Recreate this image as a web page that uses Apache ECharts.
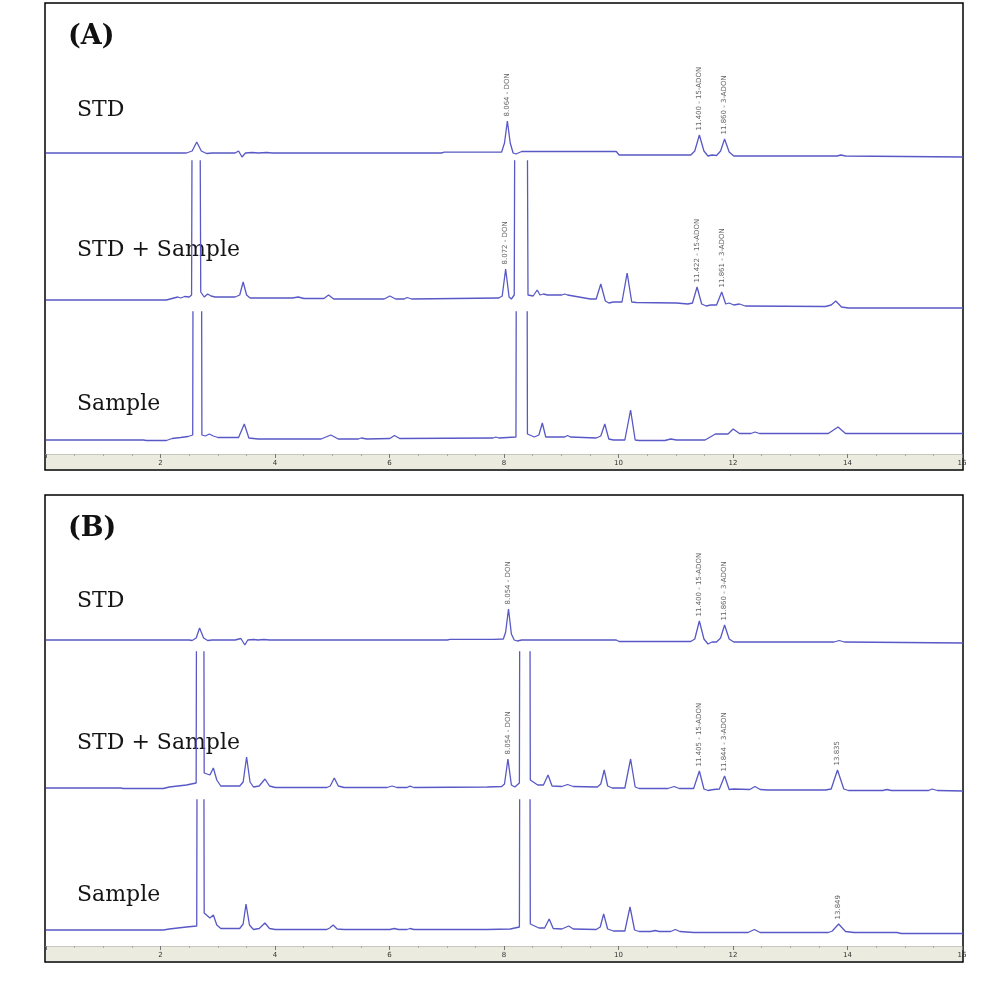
<!DOCTYPE html>
<html><head><meta charset="utf-8">
<script src="https://cdn.jsdelivr.net/npm/echarts@6/dist/echarts.min.js"></script>
<style>html,body{margin:0;padding:0;background:#fff}#c{width:989px;height:985px}</style>
</head><body><div id="c"></div>
<script>
// ---------- DATA (retention time [min], response; 0 = trace baseline) ----------
const panelTitles = ['(A)', '(B)'];
const traceNames = ['STD', 'STD + Sample', 'Sample'];
const xTickLabels = [0, 2, 4, 6, 8, 10, 12, 14, 16];

const traceA_STD = [[0,0],[2.45,0],[2.55,2],[2.63,11],[2.71,2],[2.8,-0.5],[2.9,0],[3.3,0],[3.36,2],[3.42,-4],[3.48,0],[3.6,0.5],[3.7,0],[3.85,0.5],[3.95,0],[6.9,0],[6.95,0.8],[7.7,0.8],[7.73,2.5],[7.76,0.8],[7.95,1],[8.0,10],[8.05,32],[8.1,10],[8.15,0],[8.2,-1],[8.3,1.5],[9.95,1.5],[10.0,-2],[11.25,-2],[11.32,2],[11.4,18],[11.48,2],[11.55,-3],[11.62,-2],[11.7,-2.5],[11.77,2],[11.84,14],[11.92,1],[12.0,-3],[13.8,-3],[13.87,-2],[13.95,-3],[16,-4]];
const traceA_MIX = [[0,0],[2.1,0],[2.2,1.5],[2.3,3],[2.35,2],[2.42,3.5],[2.5,3],[2.54,5],[2.57,600],[2.63,900],[2.66,600],[2.7,8],[2.76,3],[2.82,6],[2.88,4],[2.95,3],[3.3,3],[3.38,5],[3.44,18],[3.5,5],[3.56,2],[4.3,2],[4.4,3],[4.5,1.5],[4.85,1.5],[4.93,5],[5.02,1],[5.9,1],[6.0,4],[6.1,1],[6.25,1],[6.3,2.5],[6.38,1],[7.9,2],[7.96,4],[8.02,31],[8.08,3],[8.12,1],[8.17,5],[8.2,600],[8.3,900],[8.37,600],[8.41,5],[8.5,4],[8.57,10],[8.62,5],[8.68,6],[8.75,5],[9.0,5],[9.05,6],[9.1,5],[9.5,1],[9.6,1],[9.68,16],[9.76,-1],[9.82,-3],[9.9,-2],[10.05,-2],[10.14,27],[10.22,-2],[10.3,-2.5],[11.0,-3],[11.2,-4],[11.28,-3],[11.36,13],[11.44,-4],[11.52,-6],[11.6,-5],[11.7,-5],[11.79,8],[11.86,-4],[11.92,-3],[12.0,-5],[12.1,-4],[12.2,-6],[13.6,-6.5],[13.7,-5],[13.78,-1],[13.88,-7],[14,-8],[16,-8]];
const traceA_SMP = [[0,0],[1.7,0],[1.75,-0.5],[2.1,-0.5],[2.2,1.5],[2.35,2.5],[2.48,3.5],[2.56,5],[2.58,600],[2.66,900],[2.7,600],[2.72,5],[2.78,4],[2.85,6],[2.92,4],[3.0,2.5],[3.36,2.5],[3.46,16],[3.54,2],[3.7,1],[4.8,1],[4.97,5],[5.1,1],[5.45,1],[5.5,2],[5.6,1],[6.0,1.5],[6.08,4.5],[6.17,1.5],[7.8,2],[7.85,3],[7.9,2],[8.2,3],[8.22,600],[8.3,900],[8.38,600],[8.4,6],[8.52,3],[8.6,5],[8.66,17],[8.72,3],[8.85,3],[9.05,3],[9.1,4.5],[9.15,3],[9.6,2],[9.68,4],[9.75,16],[9.82,1],[9.9,0],[10.1,0],[10.2,30],[10.28,0],[10.35,-0.5],[10.8,-0.5],[10.9,1],[11.0,0],[11.5,0],[11.68,6],[11.9,6],[11.99,11],[12.1,6.5],[12.3,6.5],[12.37,8],[12.45,6.5],[13.65,6.5],[13.82,13],[13.95,6.5],[16,6.5]];

const traceB_STD = [[0,0],[2.5,0],[2.55,-0.5],[2.62,2],[2.68,12],[2.75,2],[2.82,-0.5],[2.9,0],[3.3,0],[3.4,1.5],[3.47,-5],[3.52,0],[3.62,0.5],[3.7,0],[3.8,0.5],[3.9,0],[7.0,0],[7.05,0.7],[7.75,0.7],[7.78,2.5],[7.81,0.7],[7.98,1],[8.02,8],[8.07,31],[8.12,6],[8.17,0],[8.22,-1],[8.3,0],[9.95,0],[10.0,-1.5],[11.25,-1.5],[11.32,1],[11.4,19],[11.48,1],[11.55,-4],[11.62,-2],[11.7,-2],[11.77,2],[11.84,15],[11.92,1],[12.0,-2],[13.75,-2],[13.84,-0.5],[13.93,-2],[16,-3]];
const traceB_MIX = [[0,0],[1.3,0],[1.35,-0.5],[2.05,-0.5],[2.15,1],[2.3,2],[2.45,3],[2.62,5],[2.64,600],[2.7,900],[2.74,600],[2.76,15],[2.86,13],[2.92,20],[2.98,8],[3.05,2],[3.38,2],[3.44,6],[3.5,31],[3.56,6],[3.62,1],[3.72,2],[3.82,9],[3.9,2],[4.0,0.5],[4.9,0.5],[4.96,2],[5.03,10],[5.1,2],[5.2,0.5],[5.95,0.5],[6.04,2],[6.12,0.5],[6.3,0.5],[6.35,1.8],[6.42,0.5],[7.7,1],[7.95,1.5],[8.0,4],[8.06,29],[8.12,3],[8.18,1],[8.26,5],[8.28,600],[8.36,900],[8.43,600],[8.45,8],[8.58,3],[8.68,3],[8.76,13],[8.83,2],[9.0,1.5],[9.1,3.5],[9.2,1.5],[9.62,1],[9.68,4],[9.74,18],[9.8,2],[9.88,0],[10.1,0],[10.2,29],[10.28,1],[10.35,-0.5],[10.85,-0.5],[10.96,1.5],[11.05,-0.5],[11.3,-0.5],[11.4,17],[11.48,-1],[11.55,-2.5],[11.65,-1.5],[11.75,-1],[11.84,12],[11.92,-1.5],[12.0,-1],[12.28,-1.5],[12.37,1.5],[12.46,-1.5],[12.6,-2],[13.6,-2],[13.7,-1],[13.81,18],[13.92,-1],[14.0,-2.5],[14.6,-2.5],[14.67,-1.5],[14.75,-2.5],[15.4,-2.5],[15.46,-1],[15.55,-2.5],[16,-3]];
const traceB_SMP = [[0,0],[2.05,0],[2.15,1],[2.3,2],[2.45,3],[2.63,4],[2.65,600],[2.7,900],[2.74,600],[2.76,17],[2.86,12],[2.92,15],[2.98,5],[3.05,1.5],[3.38,1.5],[3.44,6],[3.49,26],[3.55,5],[3.62,0.5],[3.72,1.5],[3.82,7],[3.9,1.5],[4.0,0.5],[4.9,0.5],[4.95,2],[5.01,5],[5.08,1],[5.2,0.5],[6.0,0.5],[6.08,1.5],[6.15,0.5],[6.3,0.5],[6.35,1.5],[6.42,0.5],[7.7,0.5],[8.1,1],[8.26,3],[8.28,600],[8.36,900],[8.43,600],[8.45,6],[8.6,2],[8.7,2],[8.78,11],[8.85,1.5],[9.0,1],[9.12,4],[9.2,1],[9.6,0.5],[9.67,3],[9.73,16],[9.8,1],[9.9,-1],[10.1,-1],[10.19,23],[10.27,0],[10.35,-1.5],[10.55,-1.5],[10.63,-0.5],[10.7,-1.5],[10.9,-1.5],[10.98,0.5],[11.06,-1.5],[11.3,-2.5],[12.25,-2.5],[12.36,0.5],[12.46,-2.5],[13.65,-2.5],[13.72,-1],[13.83,6],[13.95,-1.5],[14.1,-2.5],[14.85,-2.5],[14.92,-3.5],[16,-3.5]];

// peak annotations: [retention time, apex response, label]
const peaksA_STD = [[8.05,32,'8.064 - DON'],[11.4,18,'11.400 - 15-ADON'],[11.84,14,'11.860 - 3-ADON']];
const peaksA_MIX = [[8.02,31,'8.072 - DON'],[11.36,13,'11.422 - 15-ADON'],[11.79,8,'11.861 - 3-ADON']];
const peaksA_SMP = [];
const peaksB_STD = [[8.07,31,'8.054 - DON'],[11.4,19,'11.400 - 15-ADON'],[11.84,15,'11.860 - 3-ADON']];
const peaksB_MIX = [[8.06,29,'8.054 - DON'],[11.4,17,'11.405 - 15-ADON'],[11.84,12,'11.844 - 3-ADON'],[13.81,18,'13.835']];
const peaksB_SMP = [[13.83,6,'13.849']];

// ---------- LAYOUT ----------
const traces = [[traceA_STD, traceA_MIX, traceA_SMP],[traceB_STD, traceB_MIX, traceB_SMP]];
const peaks = [[peaksA_STD, peaksA_MIX, peaksA_SMP],[peaksB_STD, peaksB_MIX, peaksB_SMP]];
const panelTop = [3, 495];
// per trace: [grid top offset, grid height, baseline offset] relative to panel top
const traceBands = [
  [[17,140,150],[158,151,297],[309,141,437]],
  [[17,140,145],[157,148,293],[305,145,435]]
];
const nameY = [[109,249.5,403.5],[108,250,402]];
const titleY = [37, 37];
const LEFT = 46, WIDTH = 917;
const lineColor = '#5858c6';

const grid = [], xAxis = [], yAxis = [], series = [], graphic = [];
function addGrid(g){ grid.push(g); return grid.length - 1; }
function hiddenX(gi){ xAxis.push({type:'value', gridIndex:gi, min:0, max:16, show:false}); }
function hiddenY(gi, mn, mx){ yAxis.push({type:'value', gridIndex:gi, min:mn, max:mx, show:false}); }

for (let p = 0; p < 2; p++) {
  const T = panelTop[p];
  // frame
  const fi = addGrid({left:45, top:T, width:918, height:467, show:true, borderColor:'#000', borderWidth:1.5, backgroundColor:'#fff'});
  hiddenX(fi); hiddenY(fi, 0, 1);
  for (let k = 0; k < 3; k++) {
    const [gt, gh, gb] = traceBands[p][k];
    const gi = addGrid({left:LEFT, top:T+gt, width:WIDTH, height:gh});
    hiddenX(gi);
    hiddenY(gi, -(gh - (gb - gt)), gb - gt);
    series.push({type:'line', xAxisIndex:gi, yAxisIndex:gi, data:traces[p][k], showSymbol:false, symbol:'none',
      clip:true, silent:true, lineStyle:{color:lineColor, width:1.3}, z:3});
    if (peaks[p][k].length) {
      series.push({type:'scatter', xAxisIndex:gi, yAxisIndex:gi, data:peaks[p][k], symbolSize:1, silent:true,
        itemStyle:{color:'rgba(0,0,0,0)'}, clip:false, z:4,
        label:{show:true, formatter:(d)=>d.data[2], position:'top', distance:4, rotate:90, align:'left', verticalAlign:'middle',
          fontSize:7, fontFamily:'DejaVu Sans', color:'#3a3a3a'}});
    }
    graphic.push({type:'text', left:77, top:T + nameY[p][k] - 13, style:{text:traceNames[k], font:'22px "DejaVu Serif"', fill:'#151515'}});
  }
  // axis strip
  const si = addGrid({left:LEFT, top:T+451, width:WIDTH-1, height:15, show:true, backgroundColor:'#ecebe0', borderWidth:0});
  xAxis.push({type:'value', gridIndex:si, min:0, max:16, interval:2, position:'top',
    axisLine:{show:true, onZero:false, lineStyle:{color:'#c9c8bc', width:1}},
    axisTick:{show:true, inside:true, length:4, lineStyle:{color:'#777'}},
    minorTick:{show:true, splitNumber:4, length:2, lineStyle:{color:'#aaa'}},
    splitLine:{show:false},
    axisLabel:{show:true, inside:true, margin:6, fontSize:7, color:'#333', fontFamily:'DejaVu Sans',
      formatter:(v)=> (xTickLabels.indexOf(v) > 0 ? String(v) : '')}});
  hiddenY(si, 0, 1);
  graphic.push({type:'text', left:68, top:T + titleY[p] - 17, style:{text:panelTitles[p], font:'bold 27px "DejaVu Serif"', fill:'#111'}});
}

const chart = echarts.init(document.getElementById('c'), null, {renderer:'canvas'});
chart.setOption({animation:false, backgroundColor:'#fff', grid, xAxis, yAxis, series, graphic});
</script></body></html>
